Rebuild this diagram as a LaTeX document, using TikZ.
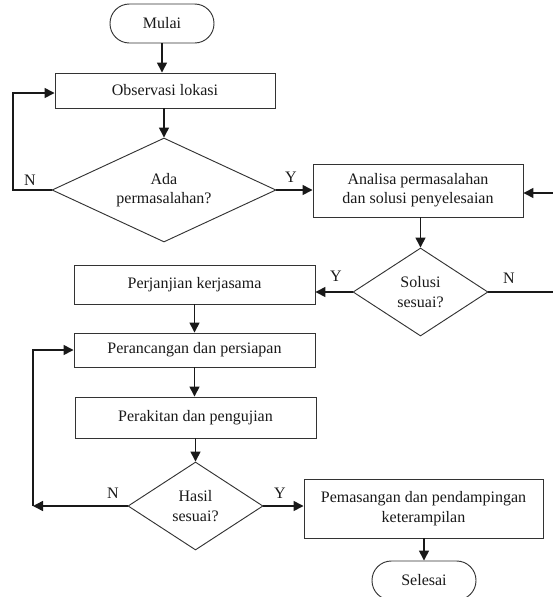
\documentclass[tikz,border=0pt]{standalone}
\usepackage{fontspec}
\setmainfont{Liberation Serif}
\usetikzlibrary{shapes.geometric,arrows.meta}
\begin{document}
\begin{tikzpicture}[x=0.75pt,y=-0.75pt,
  base/.style={draw=black!80, line width=0.7pt, font=\fontsize{12}{14.5}\selectfont, text=black!90, inner sep=0pt, align=center},
  procbox/.style={base, rectangle},
  termbox/.style={base, rectangle, rounded corners=14.5pt, minimum width=78pt, minimum height=29.25pt},
  decbox/.style={base, diamond},
  arr/.style={line width=1.1pt, black!90, -{Triangle[length=7.5pt,width=7.5pt]}},
  lbl/.style={font=\fontsize{12}{14.5}\selectfont, text=black!90, inner sep=0pt}
]
\useasboundingbox (0,0) rectangle (553,597);

\node[termbox] (mulai) at (162,23.5) {Mulai};
\node[procbox, minimum width=165pt, minimum height=26.25pt] (obs) at (165,90.5) {Observasi lokasi};
\node[decbox, aspect=2.15, minimum width=168pt, minimum height=78pt] (ada) at (164,190) {Ada\\permasalahan?};
\node[procbox, minimum width=157.5pt, minimum height=39.75pt] (anl) at (418,190.5) {Analisa permasalahan\\dan solusi penyelesaian};
\node[decbox, aspect=1.53, minimum width=101.25pt, minimum height=66pt] (sol) at (420.5,292) {Solusi\\sesuai?};
\node[procbox, minimum width=180.75pt, minimum height=29.25pt] (perj) at (194.5,284.5) {Perjanjian kerjasama};
\node[procbox, minimum width=180.75pt, minimum height=25.5pt] (peran) at (194.5,350) {Perancangan dan persiapan};
\node[procbox, minimum width=180.75pt, minimum height=30.75pt] (perak) at (195.5,417.5) {Perakitan dan pengujian};
\node[decbox, aspect=1.53, minimum width=101.25pt, minimum height=66pt] (hasil) at (195.5,506) {Hasil\\sesuai?};
\node[procbox, minimum width=179.25pt, minimum height=44.25pt] (pem) at (423.5,508.5) {Pemasangan dan pendampingan\\keterampilan};
\node[termbox] (sel) at (424,580.5) {Selesai};

\coordinate (nl1) at (13,190);
\coordinate (nl2) at (13,93);
\coordinate (nr1) at (556,292);
\coordinate (nr2) at (556,193);
\coordinate (nb1) at (33,506);
\coordinate (nb2) at (33,350);

\draw[arr] (mulai.south) -- (mulai.south |- obs.north);
\draw[arr] (ada.north |- obs.south) -- (ada.north);
\draw[arr] (ada.west) -- (nl1) -- (nl2) -- (nl2 -| obs.west);
\draw[arr] (ada.east) -- (ada.east -| anl.west);
\draw[arr] (sol.north |- anl.south) -- (sol.north);
\draw[arr] (sol.west) -- (sol.west -| perj.east);
\draw[arr] (sol.east) -- (nr1) -- (nr2) -- (nr2 -| anl.east);
\draw[arr] (perj.south) -- (perj.south |- peran.north);
\draw[arr] (peran.south) -- (peran.south |- perak.north);
\draw[arr] (hasil.north |- perak.south) -- (hasil.north);
\draw[arr] (hasil.west) -- (nb1);
\draw[arr] (nb1) -- (nb2) -- (peran.west);
\draw[arr] (hasil.east) -- (hasil.east -| pem.west);
\draw[arr] (sel.north |- pem.south) -- (sel.north);

\node[lbl] (ln1) at (30,180) {N};
\node[lbl] (ly1) at (291,177) {Y};
\node[lbl] (ly2) at (336,276) {Y};
\node[lbl] (ln2) at (509,278) {N};
\node[lbl] (ln3) at (113,493) {N};
\node[lbl] (ly3) at (280,493) {Y};
\end{tikzpicture}
\end{document}
